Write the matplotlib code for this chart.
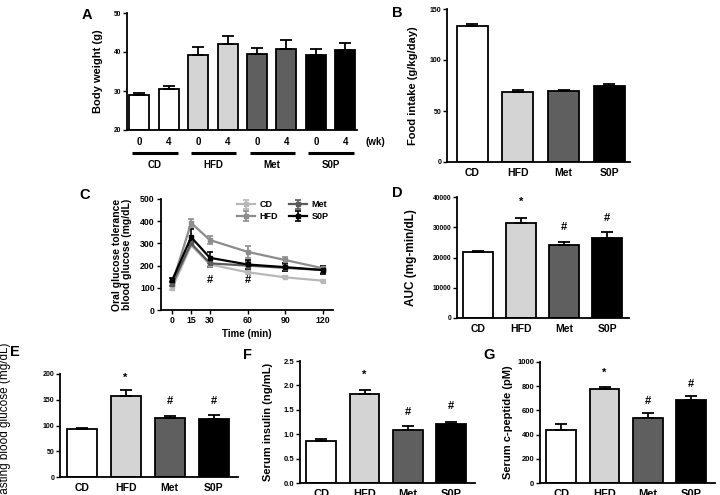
import matplotlib
matplotlib.use('Agg')
import matplotlib.pyplot as plt
import matplotlib.transforms as mtransforms
import numpy as np

plt.rcParams['font.family'] = ['Liberation Sans', 'DejaVu Sans']
plt.rcParams['font.weight'] = 'bold'
plt.rcParams['axes.linewidth'] = 1.3

W, H = 720, 495

groups = ['CD', 'HFD', 'Met', 'S0P']
bar_colors = ['#ffffff', '#d4d4d4', '#5f5f5f', '#000000']

# A: body weight
bw_weeks = ['0', '4']
bw_mean = [29.0, 30.6, 39.2, 42.0, 39.4, 40.7, 39.3, 40.6]
bw_err = [0.5, 0.7, 2.0, 2.1, 1.7, 2.5, 1.4, 1.8]

# B: food intake
food_mean = [133.0, 68.5, 70.0, 74.5]
food_err = [2.0, 2.5, 1.0, 2.0]

# C: OGTT
ogtt_time = [0, 15, 30, 60, 90, 120]
ogtt_cd = [100, 292, 205, 170, 147, 132]
ogtt_hfd = [120, 392, 315, 262, 225, 188]
ogtt_met = [118, 300, 210, 200, 190, 180]
ogtt_s0p = [135, 328, 235, 205, 193, 180]
ogtt_cd_err = [8, 10, 8, 6, 5, 5]
ogtt_hfd_err = [10, 20, 18, 28, 15, 10]
ogtt_met_err = [10, 12, 15, 15, 15, 15]
ogtt_s0p_err = [10, 35, 25, 20, 18, 18]
ogtt_line_colors = ['#b8b8b8', '#8c8c8c', '#5a5a5a', '#000000']
ogtt_mark_time = [30, 60]
ogtt_mark_y = [135, 135]

# D: AUC
auc_mean = [21800, 31300, 24200, 26300]
auc_err = [300, 1800, 800, 2000]
auc_marks = ['', '*', '#', '#']
auc_mark_y = [0, 38300, 30100, 33100]

# E: fasting blood glucose
fbg_mean = [93, 158, 115, 113]
fbg_err = [3, 10, 3, 8]
fbg_marks = ['', '*', '#', '#']
fbg_mark_y = [0, 192, 148, 148]

# F: insulin
ins_mean = [0.87, 1.83, 1.08, 1.21]
ins_err = [0.03, 0.08, 0.08, 0.05]
ins_marks = ['', '*', '#', '#']
ins_mark_y = [0, 2.21, 1.45, 1.58]

# G: c-peptide
cpep_mean = [440, 780, 535, 690]
cpep_err = [50, 12, 45, 30]
cpep_marks = ['', '*', '#', '#']
cpep_mark_y = [0, 909, 678, 818]


def rect(l, t, r, b):
    return [l / W, 1 - b / H, (r - l) / W, (b - t) / H]


def style(ax, tick_fs):
    for s in ['top', 'right']:
        ax.spines[s].set_visible(False)
    ax.tick_params(axis='y', length=3, width=1, labelsize=tick_fs, pad=1)
    ax.tick_params(axis='x', length=0)


def bar_panel(ax, means, errs, ylim, yticks, ytl, xlim, ylabel, ylx, marks=None,
              mark_y=None, tick_fs=5, cat_fs=7.5, lab_fs=8, width=0.68):
    x = np.arange(len(means))
    ax.bar(x, means, width=width, color=bar_colors, edgecolor='black', linewidth=1.3, zorder=2)
    ax.errorbar(x, means, yerr=[np.zeros(len(errs)), errs], fmt='none', ecolor='black',
                elinewidth=1.3, capsize=4, capthick=1.3, zorder=3)
    ax.set_ylim(*ylim)
    ax.set_xlim(*xlim)
    ax.set_yticks(yticks)
    ax.set_yticklabels(ytl)
    ax.set_xticks(x)
    ax.set_xticklabels(groups, fontsize=cat_fs, fontweight='bold')
    style(ax, tick_fs)
    ax.tick_params(axis='x', pad=4)
    if ylabel:
        ax.set_ylabel(ylabel, fontsize=lab_fs, fontweight='bold')
        ax.yaxis.set_label_coords(ylx, 0.5)
    if marks:
        for xi, m, yv in zip(x, marks, mark_y):
            if m:
                ax.text(xi, yv, m, ha='center', va='center', fontsize=8, fontweight='bold')


fig = plt.figure(figsize=(7.2, 4.95), dpi=100)

# Panel A
axA = fig.add_axes(rect(127, 13, 357, 130))
xa = np.arange(len(bw_mean))
a_colors = [c for c in bar_colors for _ in range(2)]
axA.bar(xa, [m - 20 for m in bw_mean], bottom=20, width=0.68, color=a_colors,
        edgecolor='black', linewidth=1.3, zorder=2)
axA.errorbar(xa, bw_mean, yerr=[np.zeros(len(bw_err)), bw_err], fmt='none', ecolor='black',
             elinewidth=1.3, capsize=4, capthick=1.3, zorder=3)
axA.set_ylim(20, 50)
axA.set_xlim(-0.42, 7.4)
axA.set_yticks([20, 30, 40, 50])
axA.set_yticklabels(['20', '30', '40', '50'])
axA.set_xticks(xa)
axA.set_xticklabels(bw_weeks * 4, fontsize=7, fontweight='bold')
style(axA, 4.8)
axA.tick_params(axis='x', pad=5)
axA.set_ylabel('Body weight (g)', fontsize=8, fontweight='bold')
axA.yaxis.set_label_coords(-0.105, 0.5)
trA = mtransforms.blended_transform_factory(axA.transData, axA.transAxes)
for i, g in enumerate(groups):
    x0, x1 = 2 * i, 2 * i + 1
    axA.plot([x0 - 0.25, x1 + 0.3], [-0.197, -0.197], color='black', lw=2.2,
             transform=trA, clip_on=False, solid_capstyle='butt')
    axA.text((x0 + x1) / 2 + 0.02, -0.30, g, transform=trA, ha='center', va='center',
             fontsize=7, fontweight='bold')
axA.text(1.08, -0.10, '(wk)', transform=axA.transAxes, ha='center', va='center',
         fontsize=7, fontweight='bold')

# Panel B
axB = fig.add_axes(rect(447, 9, 630, 162))
bar_panel(axB, food_mean, food_err, (0, 150), [0, 50, 100, 150], ['0', '50', '100', '150'],
          (-0.55, 3.45), 'Food intake (g/kg/day)', -0.16, tick_fs=5, cat_fs=7.5, lab_fs=8)

# Panel C
axC = fig.add_axes(rect(161, 199, 333, 310))
series = [('CD', ogtt_cd, ogtt_cd_err), ('HFD', ogtt_hfd, ogtt_hfd_err),
          ('Met', ogtt_met, ogtt_met_err), ('S0P', ogtt_s0p, ogtt_s0p_err)]
for (name, vals, errs), col in zip(series, ogtt_line_colors):
    axC.errorbar(ogtt_time, vals, yerr=errs, color=col, lw=1.6, marker='s', ms=2.5,
                 capsize=2.5, capthick=1.2, elinewidth=1.2, label=name)
for t, yv in zip(ogtt_mark_time, ogtt_mark_y):
    axC.text(t, yv, '#', ha='center', va='center', fontsize=8, fontweight='bold')
axC.set_xlim(-9, 128)
axC.set_ylim(0, 500)
axC.set_xticks(ogtt_time)
axC.set_yticks([0, 100, 200, 300, 400, 500])
for s in ['top', 'right']:
    axC.spines[s].set_visible(False)
axC.tick_params(axis='both', length=3, width=1, labelsize=6.3, pad=1.5)
axC.set_xlabel('Time (min)', fontsize=7, fontweight='bold', labelpad=3)
axC.set_ylabel('Oral glucose tolerance\nblood glucose (mg/dL)', fontsize=7.5,
               fontweight='bold', linespacing=1.0)
axC.yaxis.set_label_coords(-0.17, 0.5)
leg = axC.legend(ncol=2, loc='upper right', bbox_to_anchor=(1.02, 1.06), frameon=False,
                 fontsize=6.5, handlelength=2.0, columnspacing=1.2, labelspacing=0.3,
                 handletextpad=0.5)

# Panel D
axD = fig.add_axes(rect(457, 197, 629, 318))
bar_panel(axD, auc_mean, auc_err, (0, 40000), [0, 10000, 20000, 30000, 40000],
          ['0', '10000', '20000', '30000', '40000'], (-0.49, 3.51), 'AUC (mg-min/dL)', -0.235,
          marks=auc_marks, mark_y=auc_mark_y, tick_fs=4.8, cat_fs=7.5, lab_fs=8.5)

# Panel E
axE = fig.add_axes(rect(60, 374, 238, 477))
bar_panel(axE, fbg_mean, fbg_err, (0, 200), [0, 50, 100, 150, 200],
          ['0', '50', '100', '150', '200'], (-0.49, 3.55), None, 0,
          marks=fbg_marks, mark_y=fbg_mark_y, tick_fs=5, cat_fs=7.5)
fig.text(5 / W, 1 - 422 / H, 'Fasting blood glucose (mg/dL)', rotation=90, ha='center',
         va='center', fontsize=8.5, fontweight='normal')

# Panel F
axF = fig.add_axes(rect(300, 361, 475, 483))
bar_panel(axF, ins_mean, ins_err, (0, 2.5), [0, 0.5, 1.0, 1.5, 2.0, 2.5],
          ['0.0', '0.5', '1.0', '1.5', '2.0', '2.5'], (-0.49, 3.55), 'Serum insulin (ng/mL)',
          -0.155, marks=ins_marks, mark_y=ins_mark_y, tick_fs=5.5, cat_fs=8, lab_fs=8)

# Panel G
axG = fig.add_axes(rect(540, 362, 715, 483))
bar_panel(axG, cpep_mean, cpep_err, (0, 1000), [0, 200, 400, 600, 800, 1000],
          ['0', '200', '400', '600', '800', '1000'], (-0.49, 3.55), 'Serum c-peptide (pM)',
          -0.155, marks=cpep_marks, mark_y=cpep_mark_y, tick_fs=5.5, cat_fs=8, lab_fs=8)

# Panel letters
for lab, (px, py) in zip('ABCDEFG', [(87, 15), (397, 13), (85, 195), (397, 193),
                                     (15, 352), (248, 355), (489, 355)]):
    fig.text(px / W, 1 - py / H, lab, ha='center', va='center', fontsize=10.5,
             fontweight='bold')

fig.savefig('out.png', dpi=100)
